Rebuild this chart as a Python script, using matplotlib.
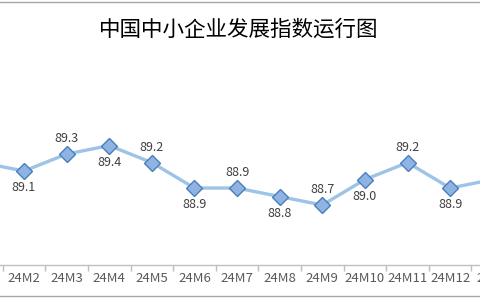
import matplotlib
matplotlib.use('Agg')
import matplotlib.pyplot as plt
import matplotlib.transforms as mtransforms

plt.rcParams['font.family'] = ['Noto Sans CJK SC', 'DejaVu Sans']

# Dados do gráfico
meses = ['24M1', '24M2', '24M3', '24M4', '24M5', '24M6', '24M7',
         '24M8', '24M9', '24M10', '24M11', '24M12', '25M1']
indice = [89.2, 89.1, 89.3, 89.4, 89.2, 88.9, 88.9,
          88.8, 88.7, 89.0, 89.2, 88.9, 89.0]
rotulo_acima = [True, False, True, False, True, False, True,
                False, True, False, True, False, True]

fig = plt.figure(figsize=(4.8, 3.0), dpi=100)
ax = fig.add_axes([0, (300 - 264.5) / 300, 1, (264.5 - 94.6) / 300])

x = list(range(len(meses)))
ax.plot(x, indice, color='#9dc3e6', linewidth=2.4, zorder=2)
ax.plot(x, indice, linestyle='none', marker='D', markersize=8,
        markerfacecolor='#8fb4e3', markeredgecolor='#4a7ebb',
        markeredgewidth=1.0, zorder=3)

# Eixo x com marcas entre categorias
for s in ['top', 'left', 'right']:
    ax.spines[s].set_visible(False)
ax.spines['bottom'].set_color('#bfbfbf')
ax.spines['bottom'].set_linewidth(1.0)
ax.set_yticks([])
ax.set_xticks([i + 0.5 for i in range(-1, len(meses))])
ax.set_xticklabels([])
ax.tick_params(axis='x', direction='out', length=4, color='#bfbfbf', width=1.0)

ax.set_xlim(0.437, 11.70)
ax.set_ylim(88.0, 90.0)

# Rótulos dos valores (só os que aparecem dentro do recorte)
for xi, v, acima in zip(x[1:-1], indice[1:-1], rotulo_acima[1:-1]):
    dy = 11 if acima else -12
    ax.annotate(f'{v:.1f}', (xi, v), xytext=(0, dy), textcoords='offset points',
                ha='center', va='center', fontsize=9, color='#404040',
                annotation_clip=False)

trans = mtransforms.blended_transform_factory(ax.transData, fig.transFigure)
for xi, m in zip(x[1:], meses[1:]):
    ax.text(xi, 1 - 279 / 300, m, transform=trans, ha='center', va='center',
            fontsize=9.5, color='#595959', clip_on=False)

# Título
fig.text(0.498, 1 - 30 / 300, '中国中小企业发展指数运行图', ha='center', va='center',
         fontsize=15.5, fontweight='normal', color='#000000')

# Bordas do gráfico
fig.add_artist(plt.Line2D([0, 1], [1 - 2 / 300, 1 - 2 / 300], color='#a6a6a6',
                          linewidth=1.0, transform=fig.transFigure))
fig.add_artist(plt.Line2D([0, 1], [1 - 295.7 / 300, 1 - 295.7 / 300], color='#a6a6a6',
                          linewidth=1.0, transform=fig.transFigure))

fig.savefig('out.png', dpi=100)
